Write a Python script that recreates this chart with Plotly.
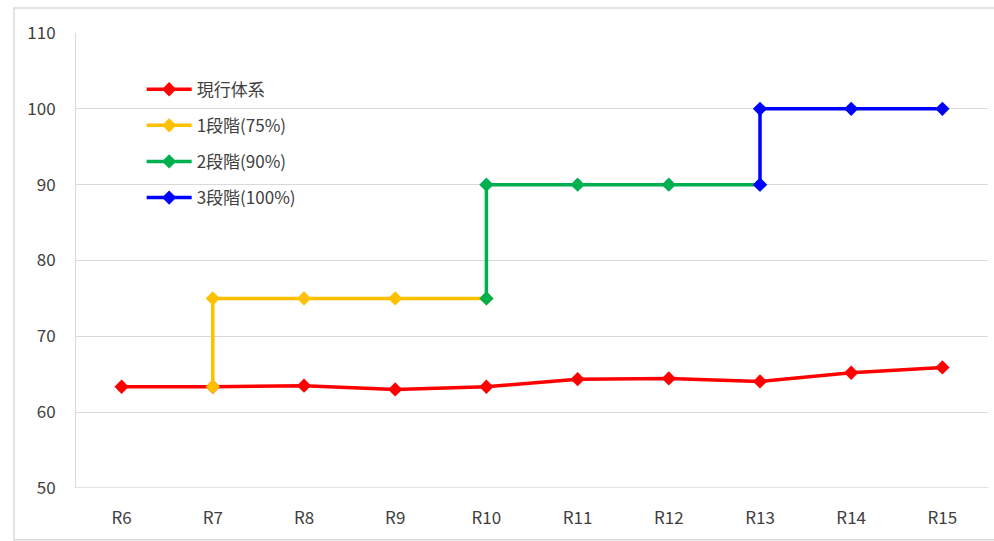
import plotly.graph_objects as go

# Fiscal years on the horizontal axis
years = ["R6", "R7", "R8", "R9", "R10", "R11", "R12", "R13", "R14", "R15"]

# Current system
current_values = [63.35, 63.35, 63.5, 63.0, 63.35, 64.35, 64.45, 64.05, 65.2, 65.9]

# Stage 1 (75%): rises at R7, holds until R10
stage1_x = ["R7", "R7", "R8", "R9", "R10"]
stage1_y = [63.35, 75, 75, 75, 75]

# Stage 2 (90%): rises at R10, holds until R13
stage2_x = ["R10", "R10", "R11", "R12", "R13"]
stage2_y = [75, 90, 90, 90, 90]

# Stage 3 (100%): rises at R13, holds until R15
stage3_x = ["R13", "R13", "R14", "R15"]
stage3_y = [90, 100, 100, 100]

series = [
    ("現行体系", years, current_values, "#ff0000"),
    ("1段階(75%)", stage1_x, stage1_y, "#ffc000"),
    ("2段階(90%)", stage2_x, stage2_y, "#00b050"),
    ("3段階(100%)", stage3_x, stage3_y, "#0000ff"),
]

fig = go.Figure()
for i, (name, xs, ys, color) in enumerate(series):
    fig.add_trace(go.Scatter(
        x=xs, y=ys, name=name, mode="lines+markers",
        line=dict(color=color, width=3.5),
        marker=dict(symbol="diamond", size=11, color=color),
        legendgroup=f"g{i}",
    ))

font_main = "Noto Sans CJK JP, Liberation Sans, sans-serif"
text_color = "#404040"

fig.update_layout(
    width=994, height=541,
    margin=dict(l=76, r=6, t=33, b=53),
    paper_bgcolor="white", plot_bgcolor="white",
    font=dict(family=font_main, size=16, color=text_color),
    showlegend=True,
    legend=dict(
        x=0.072, y=0.915, xanchor="left", yanchor="top",
        bgcolor="rgba(0,0,0,0)", traceorder="grouped", tracegroupgap=11,
        itemwidth=45,
        font=dict(size=17, color=text_color),
    ),
    xaxis=dict(
        type="category", categoryorder="array", categoryarray=years,
        range=[-0.5, len(years) - 0.5],
        showgrid=False, showline=False, zeroline=False, ticks="",
        ticklabelstandoff=18,
        tickfont=dict(size=17, color=text_color),
    ),
    yaxis=dict(
        range=[50, 110], dtick=10,
        showgrid=True, gridcolor="#d9d9d9", gridwidth=1,
        showline=True, linecolor="#d9d9d9", linewidth=1,
        zeroline=False, ticks="", ticklabelstandoff=16,
        tickfont=dict(size=17, color=text_color),
    ),
    shapes=[
        dict(type="rect", xref="paper", yref="paper",
             x0=-0.068, x1=1.06, y0=-0.114, y1=1.0549,
             line=dict(color="#d9d9d9", width=1.5), fillcolor="rgba(0,0,0,0)",
             layer="below"),
        dict(type="line", xref="paper", yref="y",
             x0=0, x1=1, y0=50, y1=50,
             line=dict(color="#d9d9d9", width=1.5), layer="below"),
    ],
)

fig.write_html("out.html")
